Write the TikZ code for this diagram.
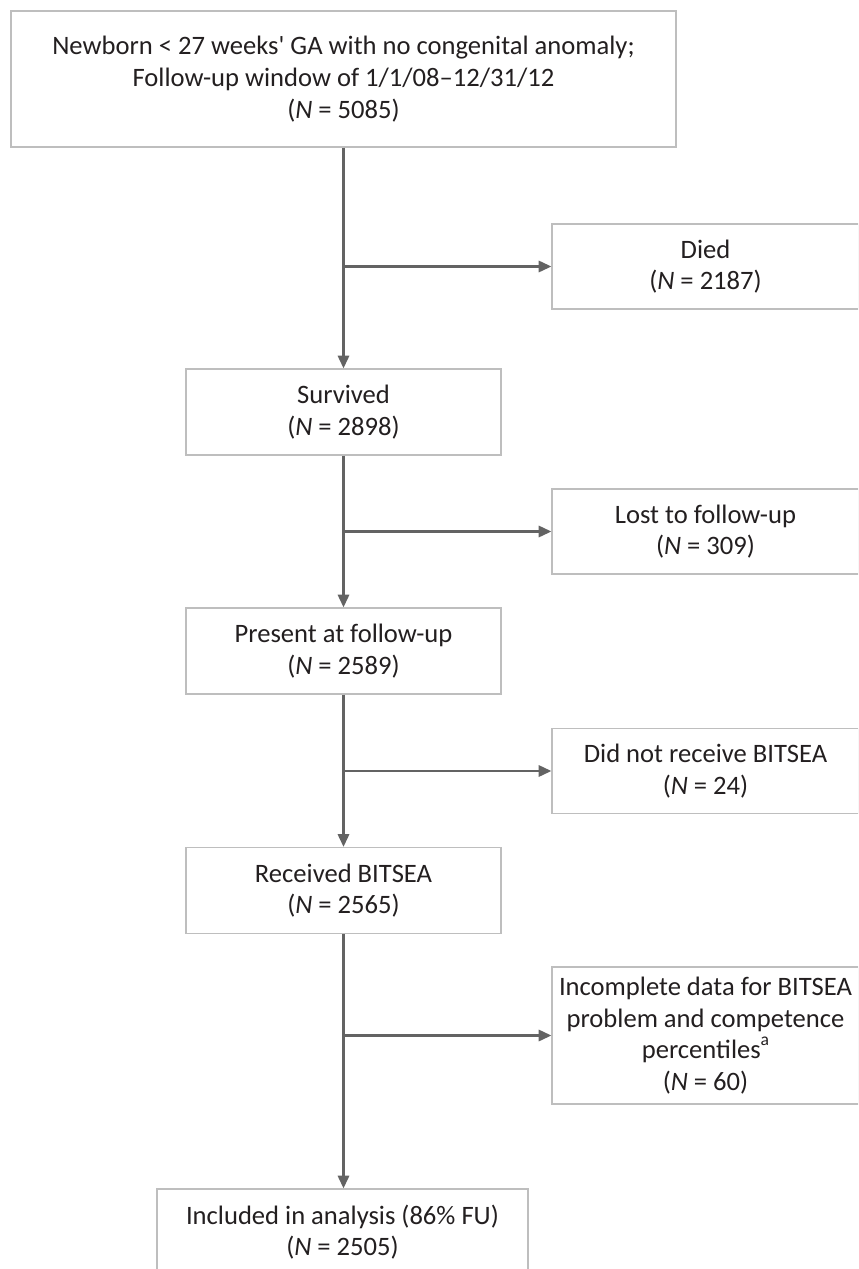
\documentclass[tikz,border=0pt]{standalone}
\usepackage{fontspec}
\setmainfont{Carlito}
\usetikzlibrary{arrows.meta}
\definecolor{boxgray}{HTML}{BEBEBE}
\definecolor{arrgray}{HTML}{636363}
\definecolor{txt}{HTML}{231F20}
\newcommand{\Nn}[1]{(\textit{N} = #1)}
\newcommand{\supnote}[1]{\raisebox{0.5em}{\fontsize{15}{15}\selectfont #1}}

\begin{document}
\begin{tikzpicture}[x=0.03cm,y=-0.03cm,
		box/.style={draw=boxgray, line width=1.1pt, fill=white, text=txt, align=center,
			inner sep=0pt, font=\fontsize{22.7}{27}\selectfont},
		mainbox/.style={box, minimum width=9.45cm, minimum height=2.58cm},
		sidebox/.style={box, minimum width=9.21cm, minimum height=2.55cm},
		arr/.style={draw=arrgray, line width=1.8pt, -{Triangle[length=0.38cm,width=0.34cm]}}]
			\clip (0,0) rectangle (858,1269);
			\useasboundingbox (0,0) rectangle (858,1269);
			% boxes down the middle
			\node[box, minimum width=19.95cm, minimum height=4.08cm] (newborn) at (343.5,79)
				{Newborn < 27 weeks\textquotesingle{} GA with no congenital anomaly;\\
				 Follow-up window of 1/1/08--12/31/12\\ \Nn{5085}};
			\node[mainbox] (survived) at (343.5,412) {Survived\\ \Nn{2898}};
			\node[mainbox] (present) at (343.5,651) {Present at follow-up\\ \Nn{2589}};
			\node[mainbox] (received) at (343.5,890.5) {Received BITSEA\\ \Nn{2565}};
			\node[box, minimum width=11.13cm, minimum height=2.58cm] (included) at (342.5,1232)
				{Included in analysis (86\% FU)\\ \Nn{2505}};
			% exclusions on the right
			\node[sidebox] (died) at (705.5,266.5) {Died\\ \Nn{2187}};
			\node[sidebox] (lost) at (705.5,531.5) {Lost to follow-up\\ \Nn{309}};
			\node[sidebox] (notrec) at (705.5,771) {Did not receive BITSEA\\ \Nn{24}};
			\node[sidebox, minimum height=4.11cm] (incomplete) at (705.5,1035.5)
				{Incomplete data for BITSEA\\ problem and competence\\ percentiles\supnote{a}\\ \Nn{60}};
			% connectors
			\draw[arr] (newborn.south -| survived.north) -- (survived.north);
			\draw[arr] (survived.north |- died.west) -- (died.west);
			\draw[arr] (survived.south) -- (present.north);
			\draw[arr] (survived.south |- lost.west) -- (lost.west);
			\draw[arr] (present.south) -- (received.north);
			\draw[arr] (present.south |- notrec.west) -- (notrec.west);
			\draw[arr] (received.south) -- (received.south |- included.north);
			\draw[arr] (received.south |- incomplete.west) -- (incomplete.west);
		\end{tikzpicture}
\end{document}
